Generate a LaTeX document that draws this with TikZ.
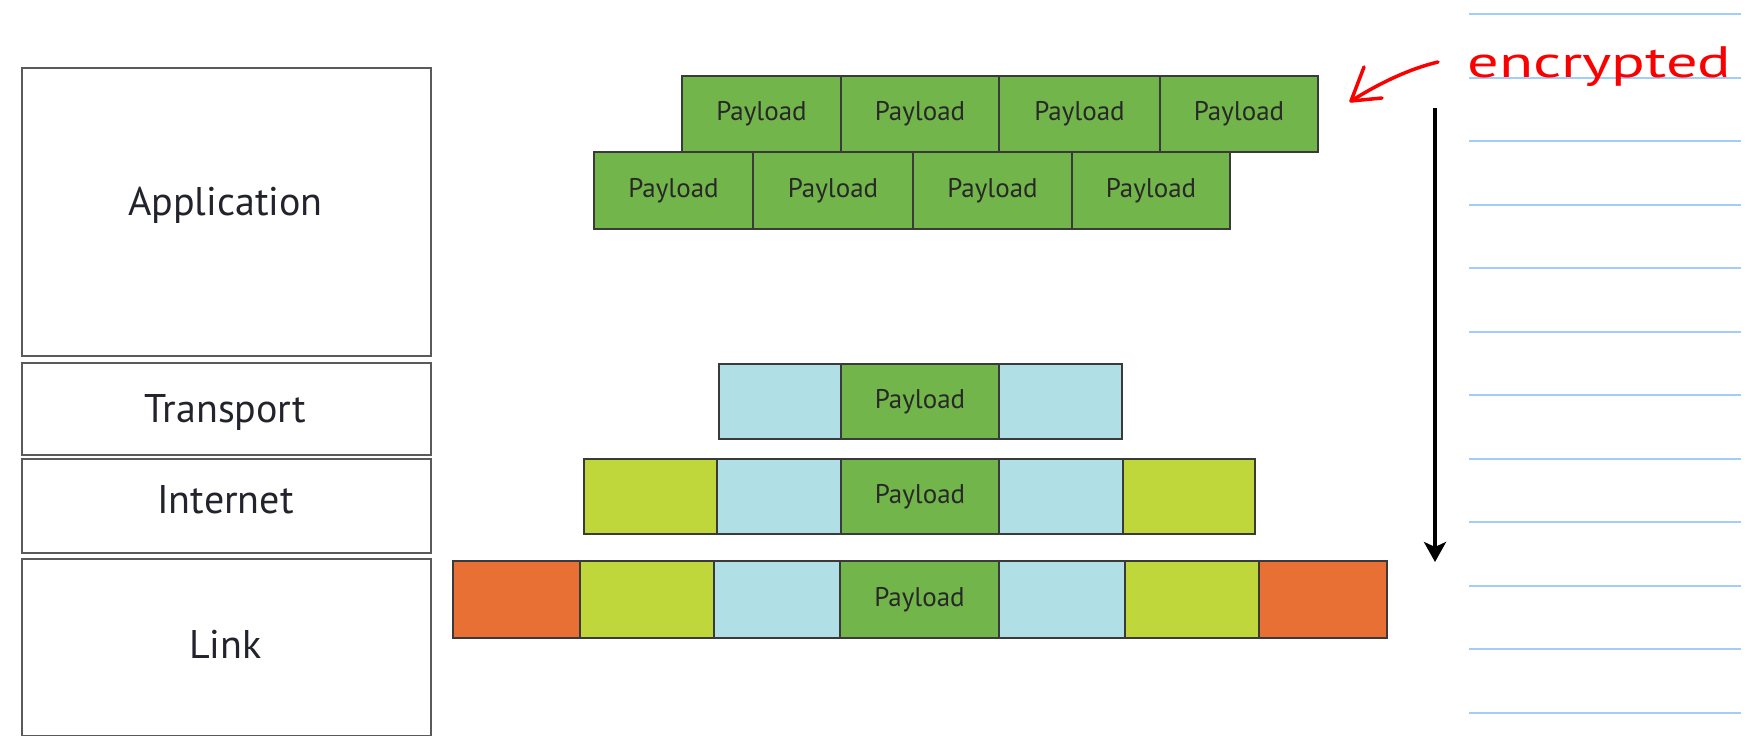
\documentclass[tikz,border=0pt]{standalone}
\usepackage{fontspec}
\setmainfont{PT Sans}
\usetikzlibrary{arrows.meta}

\definecolor{paygreen}{RGB}{114,181,74}
\definecolor{hdrblue}{RGB}{176,223,229}
\definecolor{hdrlime}{RGB}{191,215,59}
\definecolor{hdrorange}{RGB}{233,112,53}
\definecolor{cellline}{RGB}{58,58,58}
\definecolor{layerline}{RGB}{90,90,90}
\definecolor{labeltext}{RGB}{35,35,45}
\definecolor{celltext}{RGB}{40,40,40}
\definecolor{ruleblue}{RGB}{160,205,250}
\definecolor{inkred}{RGB}{250,0,0}

\tikzset{
  layerbox/.style={draw=layerline, line width=2pt, inner sep=0pt, anchor=north west},
  layerlabel/.style={anchor=base, inner sep=0pt, text=labeltext,
                     font=\fontsize{40}{40}\selectfont},
  cell/.style={draw=cellline, line width=2pt, inner sep=0pt, anchor=north west,
               text=celltext, font=\fontsize{27}{27}\selectfont},
  ruleline/.style={draw=ruleblue, line width=2pt},
  flow/.style={draw=black, line width=4pt,
               -{Stealth[length=20pt, width=22pt, inset=5pt]}},
  ink/.style={draw=inkred, line width=3.5pt, line cap=round, line join=round},
}

% one packet cell: name, left, right, top, bottom, fill, text
\newcommand\pcell[7]{%
  \node[cell, fill=#6, minimum width=#3-#2, minimum height=#5-#4] (#1) at (#2,#4) {#7};}
% one layer box: name, top, bottom
\newcommand\lbox[3]{%
  \node[layerbox, minimum width=409, minimum height=#3-#2] (#1) at (21,#2) {};}

\begin{document}
\begin{tikzpicture}[x=1pt, y=-1pt]
\useasboundingbox (0,0) rectangle (1754,736);

% ruled note paper on the right
\foreach \k in {0,...,11}
  \draw[ruleline] (1469,{14+63.5*\k}) -- (1741,{14+63.5*\k});

% protocol layers
\lbox{app}{67}{355}
\lbox{trn}{362}{454}
\lbox{inet}{458}{552}
\lbox{link}{558}{735}
\node[layerlabel] (appL)  at (225.5,215) {Application};
\node[layerlabel] (trnL)  at (225.5,422) {Transport};
\node[layerlabel] (inetL) at (225.5,513) {Internet};
\node[layerlabel] (linkL) at (225.5,658) {Link};

% application data split into payloads
\pcell{a1}{681}{840}{75}{151}{paygreen}{Payload}
\pcell{a2}{840}{998}{75}{151}{paygreen}{Payload}
\pcell{a3}{998}{1159}{75}{151}{paygreen}{Payload}
\pcell{a4}{1159}{1317}{75}{151}{paygreen}{Payload}
\pcell{b1}{593}{752}{151}{228}{paygreen}{Payload}
\pcell{b2}{752}{912}{151}{228}{paygreen}{Payload}
\pcell{b3}{912}{1071}{151}{228}{paygreen}{Payload}
\pcell{b4}{1071}{1229}{151}{228}{paygreen}{Payload}

% transport segment
\pcell{t1}{718}{840}{363}{438}{hdrblue}{}
\pcell{t2}{840}{998}{363}{438}{paygreen}{Payload}
\pcell{t3}{998}{1121}{363}{438}{hdrblue}{}

% internet packet
\pcell{i1}{583}{716}{458}{533}{hdrlime}{}
\pcell{i2}{716}{840}{458}{533}{hdrblue}{}
\pcell{i3}{840}{998}{458}{533}{paygreen}{Payload}
\pcell{i4}{998}{1122}{458}{533}{hdrblue}{}
\pcell{i5}{1122}{1254}{458}{533}{hdrlime}{}

% link frame
\pcell{l1}{452}{579}{560}{637}{hdrorange}{}
\pcell{l2}{579}{713}{560}{637}{hdrlime}{}
\pcell{l3}{713}{839}{560}{637}{hdrblue}{}
\pcell{l4}{839}{998}{560}{637}{paygreen}{Payload}
\pcell{l5}{998}{1124}{560}{637}{hdrblue}{}
\pcell{l6}{1124}{1258}{560}{637}{hdrlime}{}
\pcell{l7}{1258}{1386}{560}{637}{hdrorange}{}

% encapsulation direction
\coordinate (flowTop) at (1435,108);
\coordinate (flowEnd) at (1435,562);
\draw[flow] (flowTop) -- (flowEnd);

% handwritten note
\node[anchor=base west, inner sep=0pt, text=inkred, xscale=1.42,
      font=\fontsize{44}{44}\selectfont] (enc) at (1467,77) {encrypted};
\coordinate (inkTail) at (1438,62);
\coordinate (inkTip) at (1351,101);
\draw[ink] (inkTail) .. controls (1405,70) and (1375,86) .. (inkTip);
\draw[ink] (1364,67) -- (inkTip) -- (1382,98);
\end{tikzpicture}
\end{document}
